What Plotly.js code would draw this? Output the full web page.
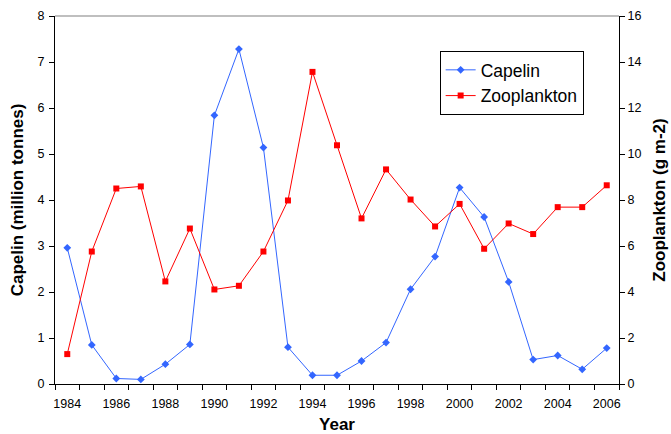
<!DOCTYPE html>
<html>
<head>
<meta charset="utf-8">
<script src="https://cdn.plot.ly/plotly-3.0.1.min.js"></script>
<style>html,body{margin:0;padding:0;background:#fff;}#chart{width:671px;height:434px;}</style>
</head>
<body>
<div id="chart"></div>
<script>
const years = [1984,1985,1986,1987,1988,1989,1990,1991,1992,1993,1994,1995,1996,1997,1998,1999,2000,2001,2002,2003,2004,2005,2006];
const capelin = [2.96,0.85,0.12,0.10,0.43,0.86,5.84,7.28,5.14,0.80,0.19,0.19,0.50,0.90,2.06,2.77,4.27,3.63,2.22,0.53,0.62,0.32,0.78];
const zooplankton = [1.30,5.76,8.50,8.59,4.46,6.76,4.11,4.27,5.76,7.98,13.57,10.38,7.20,9.33,8.02,6.85,7.83,5.88,6.98,6.52,7.69,7.69,8.64];
const xTickLabels = ['1984','1986','1988','1990','1992','1994','1996','1998','2000','2002','2004','2006'];
const xTickVals = xTickLabels.map(Number);

const traces = [
  {x: years, y: capelin, name: 'Capelin', type: 'scatter', mode: 'lines+markers',
   line: {color: '#3366FF', width: 1}, marker: {symbol: 'diamond', size: 6, color: '#3366FF'}},
  {x: years, y: zooplankton, name: 'Zooplankton', type: 'scatter', mode: 'lines+markers', yaxis: 'y2',
   line: {color: '#FF0000', width: 1}, marker: {symbol: 'square', size: 6, color: '#FF0000'}}
];

const fam = 'Liberation Sans, Arial, sans-serif';
const fnt = {family: fam, size: 12.5, color: '#000'};
const titleFont = {family: fam, size: 17, color: '#000', weight: 'bold'};
const layout = {
  width: 671, height: 434,
  margin: {l: 55, r: 52, t: 16, b: 50},
  paper_bgcolor: '#fff', plot_bgcolor: '#fff',
  showlegend: true,
  legend: {x: 0.682, y: 0.905, xanchor: 'left', yanchor: 'top', bordercolor: '#000', borderwidth: 1,
           font: {family: fam, size: 17.5, color: '#000'}, bgcolor: '#fff', tracegroupgap: 0},
  xaxis: {range: [1983.5, 2006.5], tickmode: 'array', tickvals: xTickVals, ticktext: xTickLabels,
          ticks: '', showgrid: false, zeroline: false, showline: true, linecolor: '#000', linewidth: 1,
          tickfont: fnt, ticklabelstandoff: 8,
          minor: {tick0: 1983.5, dtick: 1, ticks: 'outside', ticklen: 5, tickcolor: '#000', showgrid: false},
          title: {text: 'Year', font: titleFont, standoff: 15}},
  yaxis: {range: [0, 8], dtick: 1, ticks: 'outside', ticklen: 5, tickcolor: '#000', showgrid: false, zeroline: false,
          showline: true, linecolor: '#000', linewidth: 1, tickfont: fnt, ticklabelstandoff: 2,
          title: {text: 'Capelin (million tonnes)', font: titleFont, standoff: 9}},
  yaxis2: {range: [0, 16], dtick: 2, overlaying: 'y', side: 'right', ticks: 'outside', ticklen: 5, tickcolor: '#000',
          showgrid: false, zeroline: false, showline: true, linecolor: '#000', linewidth: 1, tickfont: fnt,
          title: {text: 'Zooplankton (g m-2)', font: titleFont, standoff: 12}},
  shapes: [{type: 'line', xref: 'paper', yref: 'paper', x0: 0, x1: 1, y0: 1, y1: 1, line: {color: '#aaaaaa', width: 1.5}}]
};
Plotly.newPlot('chart', traces, layout, {displayModeBar: false, staticPlot: true});
</script>
</body>
</html>
